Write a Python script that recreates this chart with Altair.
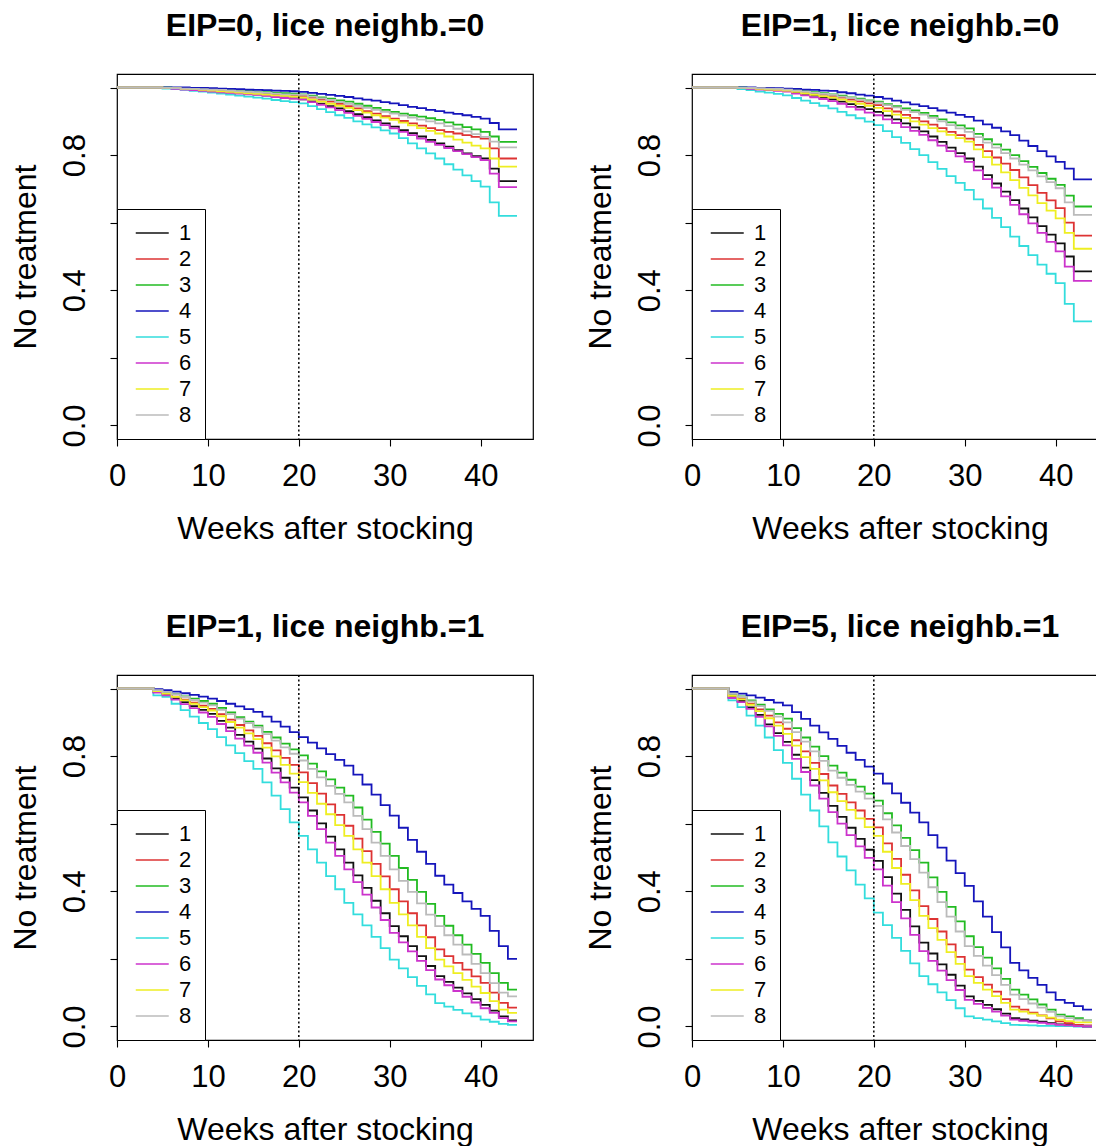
import altair as alt
import pandas as pd

WEEKS = list(range(45))
SERIES = ["1", "2", "3", "4", "5", "6", "7", "8"]
COLORS = ["#111111", "#DD3333", "#22BB22", "#1515BB", "#33DDDD", "#CC33CC", "#EEEE22", "#BBBBBB"]
TITLES = ["EIP=0, lice neighb.=0", "EIP=1, lice neighb.=0",
          "EIP=1, lice neighb.=1", "EIP=5, lice neighb.=1"]
REF_WEEK = [20]
Y_TICKS = [0.0, 0.2, 0.4, 0.6, 0.8, 1.0]
X_TICKS = [0, 10, 20, 30, 40]

# Panel 1: EIP=0, lice neighb.=0
P1 = {
    "1": [1,1,1,1,1, 0.998,0.997,0.995,0.993,0.992, 0.99,0.988,0.986,0.984,0.982, 0.98,0.977,0.974,0.971,0.968,
          0.965,0.959,0.952,0.945,0.938, 0.93,0.921,0.912,0.903,0.894, 0.884,0.874,0.865,0.855,0.845,
          0.835,0.825,0.815,0.805,0.797, 0.79,0.76,0.723,0.723,0.723],
    "2": [1,1,1,1,1, 0.999,0.998,0.997,0.996,0.995, 0.994,0.992,0.99,0.988,0.986, 0.984,0.982,0.98,0.978,0.977,
          0.975,0.97,0.964,0.958,0.952, 0.945,0.938,0.93,0.923,0.915, 0.908,0.901,0.894,0.887,0.88,
          0.874,0.869,0.864,0.859,0.854, 0.849,0.82,0.79,0.79,0.79],
    "3": [1,1,1,1,1, 1,0.999,0.998,0.997,0.996, 0.995,0.994,0.992,0.99,0.989, 0.988,0.986,0.985,0.983,0.982,
          0.98,0.976,0.971,0.967,0.962, 0.958,0.952,0.946,0.94,0.934, 0.928,0.923,0.918,0.914,0.909,
          0.904,0.897,0.89,0.883,0.876, 0.869,0.855,0.839,0.839,0.839],
    "4": [1,1,1,1,1, 1,1,1,0.999,0.999, 0.998,0.997,0.996,0.995,0.994, 0.993,0.992,0.991,0.99,0.989,
          0.987,0.984,0.981,0.978,0.975, 0.972,0.968,0.964,0.961,0.957, 0.953,0.948,0.943,0.939,0.934,
          0.93,0.926,0.922,0.918,0.913, 0.908,0.895,0.876,0.876,0.876],
    "5": [1,1,1,1,1, 0.997,0.995,0.993,0.99,0.988, 0.985,0.982,0.979,0.976,0.973, 0.97,0.967,0.963,0.96,0.957,
          0.953,0.945,0.936,0.927,0.918, 0.91,0.9,0.891,0.882,0.873, 0.864,0.85,0.835,0.82,0.805,
          0.79,0.773,0.757,0.74,0.723, 0.707,0.66,0.62,0.62,0.62],
    "6": [1,1,1,1,1, 0.998,0.996,0.994,0.992,0.99, 0.988,0.986,0.984,0.982,0.98, 0.978,0.975,0.972,0.969,0.967,
          0.965,0.957,0.949,0.941,0.933, 0.925,0.916,0.907,0.898,0.889, 0.879,0.869,0.859,0.849,0.839,
          0.83,0.821,0.812,0.803,0.794, 0.785,0.745,0.705,0.705,0.705],
    "7": [1,1,1,1,1, 0.999,0.998,0.996,0.995,0.993, 0.991,0.989,0.987,0.985,0.983, 0.981,0.979,0.977,0.975,0.973,
          0.97,0.964,0.958,0.952,0.946, 0.94,0.933,0.926,0.918,0.911, 0.904,0.896,0.888,0.88,0.872,
          0.864,0.855,0.846,0.837,0.828, 0.82,0.79,0.766,0.766,0.766],
    "8": [1,1,1,1,1, 0.999,0.998,0.997,0.996,0.995, 0.994,0.993,0.991,0.989,0.987, 0.986,0.984,0.982,0.98,0.979,
          0.978,0.973,0.968,0.963,0.957, 0.952,0.946,0.94,0.934,0.928, 0.923,0.917,0.911,0.905,0.9,
          0.894,0.886,0.878,0.87,0.862, 0.854,0.84,0.823,0.823,0.823],
}

# Panel 2: EIP=1, lice neighb.=0
P2 = {
    "1": [1,1,1,1,1, 0.998,0.997,0.995,0.993,0.992, 0.99,0.986,0.981,0.976,0.97, 0.965,0.958,0.951,0.943,0.936,
          0.928,0.917,0.906,0.894,0.882, 0.87,0.855,0.839,0.822,0.806, 0.79,0.766,0.741,0.716,0.692,
          0.667,0.642,0.616,0.59,0.565, 0.539,0.5,0.456,0.456,0.456],
    "2": [1,1,1,1,1, 0.999,0.998,0.997,0.996,0.995, 0.993,0.99,0.986,0.983,0.979, 0.975,0.97,0.964,0.959,0.953,
          0.948,0.938,0.929,0.919,0.91, 0.9,0.89,0.88,0.869,0.859, 0.849,0.83,0.812,0.793,0.775,
          0.756,0.734,0.711,0.688,0.666, 0.643,0.6,0.562,0.562,0.562],
    "3": [1,1,1,1,1, 1,0.999,0.998,0.997,0.996, 0.995,0.992,0.989,0.986,0.983, 0.98,0.976,0.971,0.967,0.962,
          0.958,0.951,0.945,0.938,0.932, 0.925,0.916,0.906,0.897,0.888, 0.879,0.863,0.847,0.832,0.816,
          0.8,0.782,0.765,0.747,0.73, 0.712,0.68,0.648,0.648,0.648],
    "4": [1,1,1,1,1, 1,1,0.999,0.999,0.998, 0.997,0.996,0.994,0.993,0.991, 0.99,0.986,0.983,0.979,0.976,
          0.972,0.967,0.961,0.956,0.95, 0.945,0.939,0.932,0.926,0.919, 0.913,0.902,0.891,0.881,0.87,
          0.859,0.843,0.827,0.812,0.796, 0.78,0.76,0.728,0.728,0.728],
    "5": [1,1,1,1,1, 0.995,0.992,0.988,0.985,0.981, 0.977,0.969,0.961,0.954,0.946, 0.938,0.928,0.918,0.909,0.899,
          0.889,0.871,0.853,0.836,0.818, 0.8,0.779,0.759,0.738,0.718, 0.697,0.669,0.642,0.614,0.587,
          0.559,0.531,0.504,0.476,0.449, 0.421,0.36,0.308,0.308,0.308],
    "6": [1,1,1,1,1, 0.998,0.996,0.994,0.992,0.99, 0.988,0.982,0.977,0.971,0.966, 0.96,0.952,0.943,0.935,0.926,
          0.918,0.906,0.895,0.883,0.872, 0.86,0.844,0.828,0.812,0.796, 0.78,0.755,0.729,0.704,0.678,
          0.653,0.625,0.598,0.57,0.543, 0.515,0.47,0.428,0.428,0.428],
    "7": [1,1,1,1,1, 0.999,0.998,0.996,0.994,0.993, 0.991,0.987,0.983,0.978,0.974, 0.97,0.964,0.958,0.952,0.946,
          0.94,0.93,0.92,0.91,0.9, 0.89,0.88,0.87,0.86,0.85, 0.84,0.817,0.794,0.772,0.749,
          0.726,0.703,0.681,0.658,0.636, 0.613,0.57,0.523,0.523,0.523],
    "8": [1,1,1,1,1, 0.999,0.999,0.998,0.997,0.996, 0.994,0.991,0.988,0.984,0.981, 0.978,0.973,0.969,0.964,0.96,
          0.955,0.948,0.941,0.934,0.927, 0.92,0.91,0.9,0.889,0.879, 0.869,0.853,0.837,0.822,0.806,
          0.79,0.772,0.755,0.737,0.72, 0.702,0.66,0.623,0.623,0.623],
}

# Panel 3: EIP=1, lice neighb.=1
P3 = {
    "1": [1,1,1,1,0.99, 0.983,0.971,0.96,0.948,0.937, 0.925,0.904,0.884,0.863,0.843, 0.822,0.793,0.764,0.736,0.707,
          0.678,0.639,0.601,0.562,0.524, 0.485,0.447,0.41,0.372,0.335, 0.297,0.267,0.238,0.208,0.179,
          0.149,0.132,0.115,0.098,0.081, 0.064,0.047,0.03,0.018,0.018],
    "2": [1,1,1,1,0.992, 0.985,0.976,0.967,0.958,0.949, 0.94,0.924,0.908,0.892,0.876, 0.86,0.838,0.817,0.795,0.774,
          0.752,0.72,0.689,0.657,0.626, 0.594,0.556,0.519,0.481,0.444, 0.406,0.37,0.335,0.299,0.264,
          0.228,0.208,0.188,0.168,0.148, 0.129,0.1,0.07,0.056,0.056],
    "3": [1,1,1,1,0.995, 0.99,0.984,0.977,0.97,0.963, 0.955,0.943,0.929,0.915,0.902, 0.89,0.872,0.855,0.837,0.82,
          0.802,0.778,0.755,0.731,0.707, 0.683,0.648,0.612,0.576,0.541, 0.505,0.469,0.434,0.398,0.363,
          0.327,0.298,0.27,0.242,0.215, 0.188,0.158,0.129,0.109,0.109],
    "4": [1,1,1,1,0.998, 0.995,0.991,0.986,0.981,0.976, 0.97,0.963,0.955,0.947,0.939, 0.931,0.917,0.902,0.887,0.871,
          0.856,0.84,0.823,0.806,0.789, 0.772,0.745,0.716,0.686,0.655, 0.624,0.588,0.552,0.517,0.481,
          0.446,0.42,0.395,0.37,0.348, 0.327,0.283,0.238,0.2,0.2],
    "5": [1,1,1,1,0.98, 0.975,0.955,0.936,0.917,0.898, 0.88,0.856,0.832,0.809,0.785, 0.762,0.722,0.683,0.643,0.604,
          0.564,0.524,0.485,0.445,0.406, 0.366,0.332,0.299,0.265,0.232, 0.198,0.172,0.146,0.12,0.095,
          0.069,0.059,0.049,0.039,0.03, 0.02,0.014,0.008,0.005,0.005],
    "6": [1,1,1,1,0.988, 0.98,0.967,0.954,0.942,0.929, 0.916,0.895,0.874,0.852,0.831, 0.81,0.781,0.751,0.722,0.692,
          0.663,0.623,0.584,0.544,0.505, 0.465,0.427,0.39,0.352,0.315, 0.277,0.249,0.222,0.194,0.167,
          0.139,0.122,0.105,0.088,0.071, 0.054,0.04,0.025,0.015,0.015],
    "7": [1,1,1,1,0.992, 0.985,0.975,0.965,0.955,0.945, 0.935,0.918,0.901,0.884,0.867, 0.85,0.825,0.799,0.774,0.748,
          0.723,0.691,0.659,0.628,0.596, 0.564,0.524,0.485,0.445,0.406, 0.366,0.332,0.299,0.265,0.232,
          0.198,0.178,0.158,0.138,0.118, 0.099,0.075,0.05,0.04,0.04],
    "8": [1,1,1,1,0.995, 0.99,0.983,0.975,0.966,0.958, 0.95,0.937,0.924,0.911,0.898, 0.885,0.865,0.846,0.826,0.807,
          0.787,0.762,0.737,0.712,0.688, 0.663,0.623,0.584,0.544,0.505, 0.465,0.431,0.398,0.364,0.331,
          0.297,0.27,0.242,0.213,0.185, 0.158,0.128,0.1,0.089,0.089],
}

# Panel 4: EIP=5, lice neighb.=1
P4 = {
    "1": [1,1,1,1,0.975, 0.963,0.944,0.922,0.894,0.868, 0.842,0.804,0.766,0.729,0.691, 0.653,0.62,0.588,0.555,0.523,
          0.49,0.442,0.393,0.345,0.296, 0.248,0.216,0.184,0.153,0.121, 0.089,0.076,0.064,0.051,0.038,
          0.025,0.021,0.017,0.014,0.01, 0.006,0.004,0.002,0,0],
    "2": [1,1,1,1,0.98, 0.97,0.955,0.938,0.92,0.9, 0.881,0.847,0.814,0.78,0.747, 0.713,0.688,0.663,0.639,0.614,
          0.589,0.542,0.496,0.449,0.403, 0.356,0.318,0.281,0.243,0.206, 0.168,0.146,0.124,0.103,0.081,
          0.059,0.05,0.041,0.033,0.024, 0.015,0.01,0.005,0.003,0.003],
    "3": [1,1,1,1,0.985, 0.977,0.965,0.952,0.938,0.925, 0.911,0.883,0.855,0.828,0.8, 0.772,0.751,0.73,0.71,0.689,
          0.668,0.631,0.595,0.558,0.522, 0.485,0.441,0.398,0.354,0.311, 0.267,0.235,0.204,0.172,0.141,
          0.109,0.094,0.08,0.065,0.05, 0.035,0.03,0.025,0.018,0.018],
    "4": [1,1,1,1,0.99, 0.985,0.98,0.973,0.966,0.958, 0.95,0.93,0.91,0.89,0.87, 0.851,0.83,0.81,0.789,0.769,
          0.748,0.719,0.69,0.662,0.633, 0.604,0.566,0.529,0.491,0.454, 0.416,0.37,0.325,0.279,0.234,
          0.188,0.166,0.144,0.123,0.101, 0.079,0.07,0.06,0.05,0.05],
    "5": [1,1,1,1,0.965, 0.945,0.92,0.89,0.855,0.818, 0.78,0.733,0.686,0.639,0.592, 0.545,0.503,0.462,0.42,0.379,
          0.337,0.3,0.262,0.224,0.187, 0.149,0.125,0.101,0.078,0.054, 0.03,0.025,0.02,0.015,0.01,
          0.005,0.004,0.003,0.002,0.002, 0.001,0.001,0,0,0],
    "6": [1,1,1,1,0.972, 0.96,0.94,0.916,0.888,0.86, 0.832,0.792,0.753,0.713,0.674, 0.634,0.6,0.566,0.533,0.499,
          0.465,0.417,0.368,0.32,0.271, 0.223,0.194,0.165,0.137,0.108, 0.079,0.067,0.055,0.044,0.032,
          0.02,0.017,0.014,0.011,0.008, 0.005,0.003,0.001,0,0],
    "7": [1,1,1,1,0.978, 0.968,0.952,0.933,0.912,0.89, 0.866,0.831,0.797,0.762,0.728, 0.693,0.667,0.641,0.616,0.59,
          0.564,0.517,0.469,0.422,0.374, 0.327,0.291,0.256,0.22,0.185, 0.149,0.129,0.109,0.09,0.07,
          0.05,0.044,0.038,0.032,0.026, 0.02,0.016,0.012,0.012,0.012],
    "8": [1,1,1,1,0.985, 0.975,0.962,0.948,0.934,0.917, 0.9,0.871,0.843,0.814,0.786, 0.757,0.736,0.715,0.695,0.674,
          0.653,0.613,0.574,0.534,0.495, 0.455,0.412,0.368,0.325,0.281, 0.238,0.209,0.18,0.152,0.123,
          0.094,0.081,0.068,0.056,0.043, 0.03,0.025,0.02,0.018,0.018],
}

FONT = "Liberation Sans"
PANEL_W = 416
PANEL_H = 365


def long_frame(panel):
    rows = []
    for s in SERIES:
        for w, v in zip(WEEKS, panel[s]):
            rows.append({"week": w, "surv": v, "group": s})
    return pd.DataFrame(rows)


def make_panel(panel, title):
    df = long_frame(panel)
    x = alt.X("week:Q",
              scale=alt.Scale(domain=[0, 45.76], nice=False, zero=False),
              axis=alt.Axis(values=X_TICKS, title="Weeks after stocking", format="d",
                            labelFlush=False, titlePadding=22))
    y = alt.Y("surv:Q",
              scale=alt.Scale(domain=[-0.04, 1.04], nice=False, zero=False),
              axis=alt.Axis(values=Y_TICKS, title="No treatment", labelFlush=False,
                            labelExpr="(abs(datum.value)<0.001 || abs(datum.value-0.4)<0.001 || abs(datum.value-0.8)<0.001) ? format(datum.value, '.1f') : ''",
                            labelAngle=-90, labelAlign="center", labelBaseline="alphabetic",
                            labelPadding=26, titleBaseline="alphabetic", titlePadding=24))
    lines = alt.Chart(df).mark_line(interpolate="step-after", strokeWidth=1.8).encode(
        x=x, y=y,
        color=alt.Color("group:N",
                        scale=alt.Scale(domain=SERIES, range=COLORS),
                        legend=alt.Legend(title=None, orient="bottom-left", offset=0,
                                          padding=13, fillColor="white", strokeColor="black",
                                          symbolType="M-1,0H3", symbolSize=272,
                                          symbolStrokeWidth=1.6, symbolOffset=3,
                                          labelOffset=24, rowPadding=4,
                                          labelFontSize=22, labelFont=FONT, labelColor="black")),
        order=alt.Order("group:N"),
    )
    rule = alt.Chart(pd.DataFrame({"week": REF_WEEK})).mark_rule(
        color="black", strokeDash=[2, 2.5], strokeWidth=1.5).encode(x="week:Q")
    return alt.layer(lines, rule).properties(
        width=PANEL_W, height=PANEL_H,
        title=alt.TitleParams(title, fontSize=32, fontWeight="bold", font=FONT,
                              anchor="middle", baseline="alphabetic", offset=5, color="black"))


panels = [make_panel(p, t) for p, t in zip([P1, P2, P3, P4], TITLES)]

chart = alt.concat(*panels, columns=2).properties(
    spacing={"row": 236, "column": 159}, bounds="flush",
    padding={"left": 0, "top": 1, "right": -13, "bottom": 0},
).resolve_scale(color="independent").resolve_legend(color="independent").configure_view(
    stroke="black", strokeWidth=1.2
).configure_axis(
    grid=False, domain=False, tickColor="black", tickSize=7, tickWidth=1.1,
    labelFont=FONT, labelFontSize=31, labelColor="black", labelPadding=15,
    titleFont=FONT, titleFontSize=32, titleFontWeight="normal", titleColor="black", titlePadding=20,
    labelOverlap=False,
)

chart.save("out.html", embed_options={"renderer": "svg", "actions": False})
